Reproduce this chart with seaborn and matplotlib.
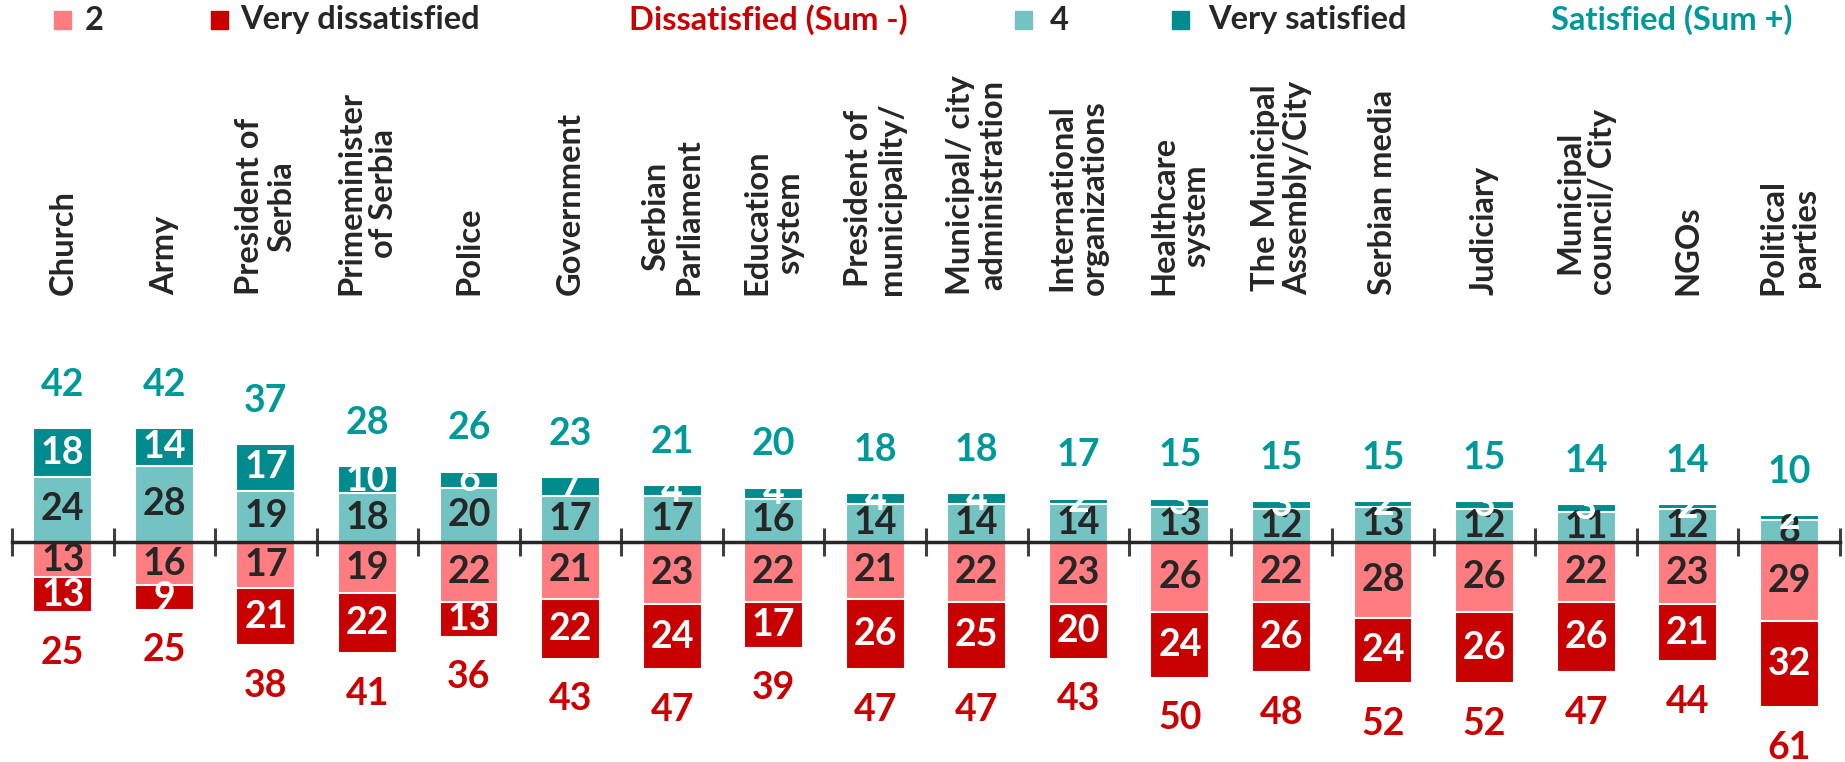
import numpy as np
import pandas as pd
import matplotlib
matplotlib.use("Agg")
import matplotlib.pyplot as plt
from matplotlib.patches import Rectangle
import seaborn as sns

sns.set_theme(style="white")
plt.rcParams['font.family'] = ['Lato', 'DejaVu Sans']
plt.rcParams['font.weight'] = 'bold'

categories = ['Church', 'Army', 'President of\nSerbia', 'Primeminister\nof Serbia', 'Police',
              'Government', 'Serbian\nParliament', 'Education\nsystem', 'President of\nmunicipality/',
              'Municipal/ city\nadministration', 'International\norganizations', 'Healthcare\nsystem',
              'The Municipal\nAssembly/City', 'Serbian media', 'Judiciary', 'Municipal\ncouncil/ City',
              'NGOs', 'Political\nparties']
# scale answers
sat4 = [24, 28, 19, 18, 20, 17, 17, 16, 14, 14, 14, 13, 12, 13, 12, 11, 12, 8]
very_sat = [18, 14, 17, 10, 6, 7, 4, 4, 4, 4, 2, 3, 3, 2, 3, 3, 2, 2]
dis2 = [13, 16, 17, 19, 22, 21, 23, 22, 21, 22, 23, 26, 22, 28, 26, 22, 23, 29]
very_dis = [13, 9, 21, 22, 13, 22, 24, 17, 26, 25, 20, 24, 26, 24, 26, 26, 21, 32]
# sums as printed
sum_plus = [42, 42, 37, 28, 26, 23, 21, 20, 18, 18, 17, 15, 15, 15, 15, 14, 14, 10]
sum_minus = [25, 25, 38, 41, 36, 43, 47, 39, 47, 47, 43, 50, 48, 52, 52, 47, 44, 61]

df = pd.DataFrame({'cat': categories, 'sat4': sat4, 'very_sat': very_sat,
                   'dis2': dis2, 'very_dis': very_dis})
df['top'] = df['sat4'] + df['very_sat']
df['bot'] = -(df['dis2'] + df['very_dis'])

c_lred = '#FF7C80'
c_dred = '#C80000'
c_lteal = '#72C3C2'
c_dteal = '#008B8E'
c_txt = '#262626'
c_sum_red = '#CC0000'
c_sum_teal = '#009999'

W, H = 1845, 762
fig = plt.figure(figsize=(W / 100, H / 100), dpi=100)
ax = fig.add_axes([12 / W, 0, (1840 - 12) / W, 1])

zero_px = 220  # from bottom
ppu = 2.71
ax.set_ylim(-zero_px / ppu, (H - zero_px) / ppu)

kw = dict(order=categories, width=0.58, edgecolor='white', linewidth=1.5,
          saturation=1, ax=ax, errorbar=None)
sns.barplot(data=df, x='cat', y='top', color=c_dteal, **kw)
sns.barplot(data=df, x='cat', y='sat4', color=c_lteal, **kw)
sns.barplot(data=df, x='cat', y='bot', color=c_dred, **kw)
sns.barplot(data=df, x='cat', y=-df['dis2'], color=c_lred, **kw)

ax.set_xlim(-0.5, len(categories) - 0.5)
ax.set_xlabel('')
ax.set_ylabel('')
ax.set_yticks([])
for s in ['top', 'left', 'right']:
    ax.spines[s].set_visible(False)
ax.spines['bottom'].set_position(('data', 0))
ax.spines['bottom'].set_color(c_txt)
ax.spines['bottom'].set_linewidth(2.5)
ax.set_xticks(np.arange(-0.5, len(categories), 1))
ax.set_xticks(np.arange(len(categories)), minor=True)
ax.set_xticklabels([])
ax.tick_params(axis='x', which='major', direction='inout', length=20, width=2.2,
               color='#404040', bottom=True)
ax.tick_params(axis='x', which='minor', direction='out', length=7, width=1.5,
               color='#404040', bottom=True)

nfs = 27
for i, r in df.iterrows():
    ax.text(i, r['sat4'] / 2, str(r['sat4']), ha='center', va='center',
            fontsize=nfs, color=c_txt, fontweight='bold')
    ax.text(i, r['sat4'] + r['very_sat'] / 2, str(r['very_sat']), ha='center', va='center',
            fontsize=nfs, color='white', fontweight='bold')
    ax.text(i, -r['dis2'] / 2, str(r['dis2']), ha='center', va='center',
            fontsize=nfs, color=c_txt, fontweight='bold')
    ax.text(i, -r['dis2'] - r['very_dis'] / 2, str(r['very_dis']), ha='center', va='center',
            fontsize=nfs, color='white', fontweight='bold')
    ax.text(i, r['top'] + 16, str(sum_plus[i]), ha='center', va='center',
            fontsize=nfs, color=c_sum_teal, fontweight='bold')
    ax.text(i, r['bot'] - 15, str(sum_minus[i]), ha='center', va='center',
            fontsize=nfs, color=c_sum_red, fontweight='bold')
    ax.text(i, (H - 295) / H, categories[i], transform=ax.get_xaxis_transform(),
            rotation=90, ha='center', va='bottom', multialignment='center',
            fontsize=23.5, color=c_txt, fontweight='bold', linespacing=1.15)

# legend row
ly = 1 - 20 / H
msz = 17
legend_items = [
    (62, 85, '2', c_lred, c_txt),
    (219, 240, 'Very dissatisfied', c_dred, c_txt),
    (None, 629, 'Dissatisfied (Sum -)', None, c_sum_red),
    (1023, 1050, '4', c_lteal, c_txt),
    (1180, 1208, 'Very satisfied', c_dteal, c_txt),
    (None, 1551, 'Satisfied (Sum +)', None, c_sum_teal),
]
for mx, tx, lab, mcol, tcol in legend_items:
    if mx is not None:
        fig.patches.append(Rectangle(((mx - msz / 2) / W, ly - msz / 2 / H), msz / W, msz / H,
                                     transform=fig.transFigure, color=mcol))
    fig.text(tx / W, ly, lab, ha='left', va='center', fontsize=23.5, color=tcol,
             fontweight='bold')

fig.savefig('out.png', dpi=100)
